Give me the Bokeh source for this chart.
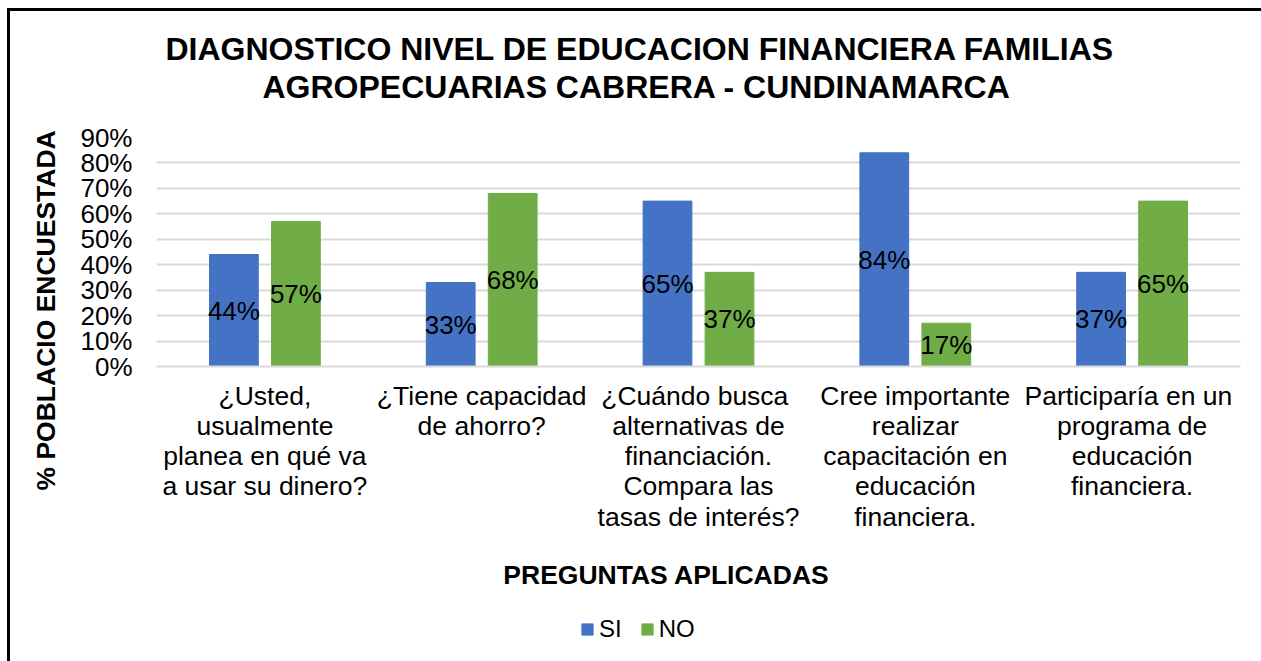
from bokeh.plotting import figure
from bokeh.layouts import column
from bokeh.models import (FactorRange, Range1d, Legend, LegendItem, Title, Label,
                          ColumnDataSource, NumeralTickFormatter, FixedTicker)
from bokeh.transform import dodge
from bokeh.core.properties import value
from bokeh.embed import file_html
from bokeh.resources import INLINE

FONT = "Liberation Sans"

# ---- data ----
categories = [
    "¿Usted,\nusualmente\nplanea en qué va\na usar su dinero?",
    "¿Tiene capacidad\nde ahorro?",
    "¿Cuándo  busca\nalternativas de\nfinanciación.\nCompara las\ntasas de interés?",
    "Cree importante\nrealizar\ncapacitación en\neducación\nfinanciera.",
    "Participaría  en un\nprograma de\neducación\nfinanciera.",
]
si_values = [0.44, 0.33, 0.65, 0.84, 0.37]
no_values = [0.57, 0.68, 0.37, 0.17, 0.65]
si_labels = ["44%", "33%", "65%", "84%", "37%"]
no_labels = ["57%", "68%", "37%", "17%", "65%"]
y_ticks = [0, 0.1, 0.2, 0.3, 0.4, 0.5, 0.6, 0.7, 0.8, 0.9]
series_names = ["SI", "NO"]
title_lines = ["DIAGNOSTICO NIVEL DE EDUCACION FINANCIERA FAMILIAS",
               "AGROPECUARIAS CABRERA - CUNDINAMARCA"]
x_title = "PREGUNTAS APLICADAS"
y_title = "% POBLACIO ENCUESTADA"

BLUE = "#4472C4"
GREEN = "#70AD47"
GRID = "#D9D9D9"

source = ColumnDataSource(dict(
    cat=categories,
    si=si_values,
    no=no_values,
    si_mid=[v / 2 for v in si_values],
    no_mid=[v / 2 for v in no_values],
    si_lab=si_labels,
    no_lab=no_labels,
))

# ================= main chart =================
p = figure(
    x_range=FactorRange(*categories),
    y_range=Range1d(0, 0.9),
    frame_width=1084, frame_height=229,
    output_backend="svg", toolbar_location=None,
    min_border_left=146, min_border_right=21,
    min_border_top=126, min_border_bottom=175,
)
p.outline_line_color = None
p.background_fill_color = "white"
p.border_fill_color = "white"

off = 0.143
bw = 0.225
p.vbar(x=dodge("cat", -off, range=p.x_range), top="si", width=bw,
       source=source, fill_color=BLUE, line_color=BLUE)
p.vbar(x=dodge("cat", off, range=p.x_range), top="no", width=bw,
       source=source, fill_color=GREEN, line_color=GREEN)

p.text(x=dodge("cat", -off, range=p.x_range), y="si_mid", text="si_lab", source=source,
       text_font=value(FONT), text_font_size="26px", text_align="center",
       text_baseline="middle", text_color="black")
p.text(x=dodge("cat", off, range=p.x_range), y="no_mid", text="no_lab", source=source,
       text_font=value(FONT), text_font_size="26px", text_align="center",
       text_baseline="middle", text_color="black")

# grid
p.xgrid.visible = False
p.ygrid.ticker = FixedTicker(ticks=y_ticks)
p.ygrid.grid_line_color = GRID
p.ygrid.grid_line_width = 2

# y axis
p.yaxis.ticker = FixedTicker(ticks=y_ticks)
p.yaxis.formatter = NumeralTickFormatter(format="0%")
p.yaxis.axis_line_color = None
p.yaxis.major_tick_line_color = None
p.yaxis.minor_tick_line_color = None
p.yaxis.major_tick_out = 0
p.yaxis.major_label_standoff = 24
p.yaxis.major_label_text_font = FONT
p.yaxis.major_label_text_font_size = "26px"
p.yaxis.major_label_text_color = "black"

# x axis
p.xaxis.axis_line_color = GRID
p.xaxis.axis_line_width = 2
p.xaxis.major_tick_line_color = None
p.xaxis.major_tick_out = 0
p.xaxis.major_label_standoff = 14
p.xaxis.major_label_text_font = FONT
p.xaxis.major_label_text_font_size = "26.5px"
p.xaxis.major_label_text_line_height = 1.01
p.xaxis.major_label_text_color = "black"
p.xaxis.major_label_orientation = "horizontal"

# titles in side panels: spacer, line 2, line 1 (stacked outward from the frame)
p.add_layout(Title(text=" ", text_font=FONT, text_font_size="10px", standoff=19,
                   vertical_align="middle"), "above")
p.add_layout(Title(text=title_lines[1], text_font=FONT, text_font_size="32px",
                   text_font_style="bold", text_color="black", align="left",
                   offset=106, standoff=0, vertical_align="middle"), "above")
p.add_layout(Title(text=title_lines[0], text_font=FONT, text_font_size="32px",
                   text_font_style="bold", text_color="black", align="left",
                   offset=9, standoff=0, vertical_align="middle"), "above")

# vertical axis title
p.add_layout(Title(text=y_title, text_font=FONT, text_font_size="26.5px",
                   text_font_style="bold", text_color="black", align="left",
                   offset=-124, standoff=31, vertical_align="middle"), "left")

# ================= bottom strip: axis title + legend =================
p_leg = figure(
    x_range=FactorRange(*categories),
    y_range=Range1d(-1, -0.5),
    width=1251, height=120,
    x_axis_location=None, y_axis_location=None,
    min_border=0, min_border_left=0, min_border_right=0,
    min_border_top=0, min_border_bottom=0,
    output_backend="svg", toolbar_location=None,
)
p_leg.outline_line_color = None
p_leg.grid.visible = False
p_leg.background_fill_color = "white"
p_leg.border_fill_color = "white"

# legend swatches come from the same series (hidden in this strip)
l_si = p_leg.vbar(x=dodge("cat", -off, range=p_leg.x_range), top="si", width=bw,
                  source=source, fill_color=BLUE, line_color=BLUE, visible=False)
l_no = p_leg.vbar(x=dodge("cat", off, range=p_leg.x_range), top="no", width=bw,
                  source=source, fill_color=GREEN, line_color=GREEN, visible=False)

# (the strip's frame is aligned with the main frame, which starts 146px in)
p_leg.add_layout(Label(x=510, y=87, x_units="screen", y_units="screen", text=x_title,
                       text_font=FONT, text_font_size="26.5px", text_font_style="bold",
                       text_align="center", text_baseline="middle", text_color="black"))

legend = Legend(
    items=[LegendItem(label=series_names[0], renderers=[l_si]),
           LegendItem(label=series_names[1], renderers=[l_no])],
    orientation="horizontal", location=(424, 18),
    glyph_width=14, glyph_height=14, label_standoff=5, spacing=18,
    padding=0, margin=0, border_line_color=None, background_fill_alpha=0,
    inactive_fill_alpha=0,
    label_text_font=FONT, label_text_font_size="24px", label_text_color="black",
)
p_leg.add_layout(legend)

layout = column(p, p_leg, spacing=0,
                styles={"border-top": "3px solid black", "border-left": "3px solid black",
                        "margin-left": "7px", "margin-top": "8px"})

open("out.html", "w").write(file_html(layout, INLINE))
